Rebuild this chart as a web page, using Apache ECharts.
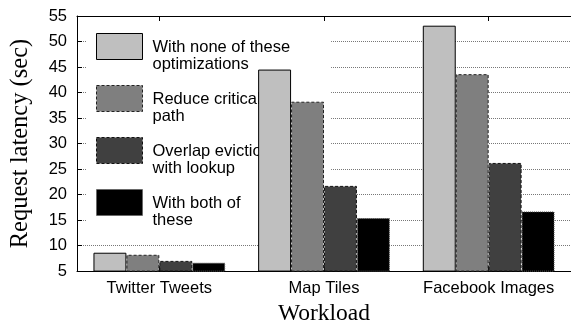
<!DOCTYPE html>
<html>
<head>
<meta charset="utf-8">
<script src="https://cdn.jsdelivr.net/npm/echarts@6/dist/echarts.min.js"></script>
<style>html,body{margin:0;padding:0;background:#fff;}#c{width:571px;height:331px;}</style>
</head>
<body>
<div id="c"></div>
<script>
const categories = ['Twitter Tweets', 'Map Tiles', 'Facebook Images'];
const seriesNames = ['With none of these\noptimizations', 'Reduce critical\npath', 'Overlap eviction\nwith lookup', 'With both of\nthese'];
const noneOpt = [8.6, 44.5, 53.1];
const reduceCritical = [8.2, 38.2, 43.6];
const overlapEviction = [7.0, 21.7, 26.2];
const bothOpt = [6.65, 15.4, 16.7];
const yTicks = [5, 10, 15, 20, 25, 30, 35, 40, 45, 50, 55];

const values = [noneOpt, reduceCritical, overlapEviction, bothOpt];
const styles = [
  { color: '#bfbfbf', borderColor: '#000', borderWidth: 1, borderType: 'solid' },
  { color: '#7f7f7f', borderColor: '#222', borderWidth: 1, borderType: [3, 2] },
  { color: '#404040', borderColor: '#111', borderWidth: 1, borderType: [3, 2] },
  { color: '#000000', borderColor: '#555', borderWidth: 1, borderType: [1, 1] }
];

const sans = 'Liberation Sans, Arial, Helvetica, sans-serif';
const serif = 'Liberation Serif, Times New Roman, serif';

const chart = echarts.init(document.getElementById('c'), null, { renderer: 'canvas' });
chart.setOption({
  animation: false,
  backgroundColor: '#fff',
  grid: { left: 77, top: 16, width: 498, height: 262 },
  legend: {
    orient: 'vertical',
    left: 86,
    top: 21,
    z: 1,
    icon: 'rect',
    itemWidth: 46,
    itemHeight: 26,
    itemGap: 0,
    padding: [0, 41, 8, 10],
    backgroundColor: '#fff',
    selectedMode: false,
    formatter: function (n) {
      return '{s| }\n' + n.split('\n').map(function (l) { return '{t|' + l + '}'; }).join('\n');
    },
    textStyle: {
      fontFamily: sans, fontSize: 16.5, color: '#000',
      rich: {
        s: { fontFamily: sans, fontSize: 16.5, lineHeight: 19, padding: [0, 0, 0, 5] },
        t: { fontFamily: sans, fontSize: 16.5, lineHeight: 17, color: '#000', padding: [0, 0, 0, 5] }
      }
    },
    data: seriesNames.map((n, i) => ({ name: n, itemStyle: styles[i] }))
  },
  xAxis: [
    {
      type: 'category',
      data: categories,
      position: 'bottom',
      axisLine: { lineStyle: { color: '#000', width: 1 } },
      axisTick: { show: true, inside: true, alignWithLabel: true, length: 5, lineStyle: { color: '#000' } },
      axisLabel: { fontFamily: sans, fontSize: 16.5, color: '#000', margin: 9, interval: 0 },
      name: 'Workload',
      nameLocation: 'middle',
      nameGap: 30,
      nameTextStyle: { fontFamily: serif, fontSize: 23.5, color: '#000' }
    },
    {
      type: 'category',
      data: categories,
      position: 'top',
      axisLine: { lineStyle: { color: '#000', width: 1 } },
      axisTick: { show: true, inside: true, alignWithLabel: true, length: 5, lineStyle: { color: '#000' } },
      axisLabel: { show: false }
    }
  ],
  yAxis: {
    type: 'value',
    min: yTicks[0],
    max: yTicks[yTicks.length - 1],
    interval: 5,
    axisLine: { show: true, lineStyle: { color: '#000', width: 1 } },
    axisTick: { show: true, inside: true, length: 5, lineStyle: { color: '#000' } },
    axisLabel: { fontFamily: sans, fontSize: 16.5, color: '#000', margin: 10 },
    splitLine: { show: true, lineStyle: { color: '#777', width: 1, type: [1, 1] } },
    name: 'Request latency (sec)',
    nameLocation: 'middle',
    nameGap: 44,
    nameTextStyle: { fontFamily: serif, fontSize: 24.5, color: '#000' }
  },
  series: values.map((v, i) => ({
    name: seriesNames[i],
    type: 'bar',
    data: v,
    z: 2,
    barGap: '0%',
    barCategoryGap: '20%',
    itemStyle: styles[i],
    emphasis: { disabled: true }
  }))
});
</script>
</body>
</html>
